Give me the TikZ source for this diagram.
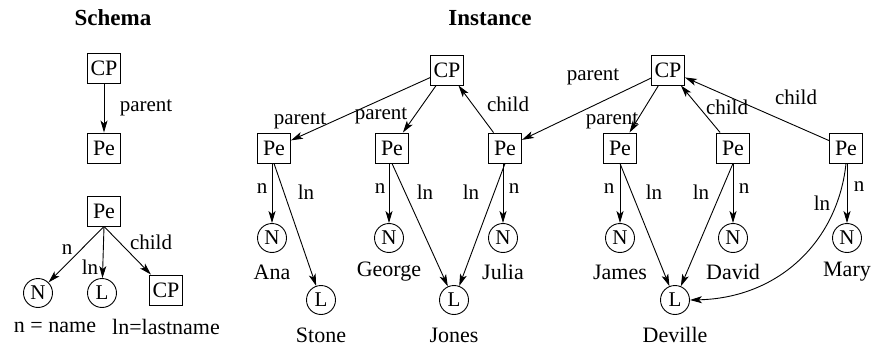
\documentclass[tikz,border=0pt]{standalone}
\usepackage{fontspec}
\setmainfont{Liberation Serif}
\newfontfamily\tms{Liberation Serif}
\usetikzlibrary{arrows.meta}
\begin{document}
\begin{tikzpicture}[x=1pt,y=-1pt,
  box/.style={draw, line width=0.9pt, minimum width=33pt, minimum height=30pt, inner sep=2pt, font=\tms\fontsize{22}{24}\selectfont},
  ent/.style={draw, circle, line width=0.9pt, minimum size=29pt, inner sep=0pt, font=\tms\fontsize{21}{24}\selectfont},
  txt/.style={font=\tms\fontsize{22}{24}\selectfont, inner sep=0pt},
  lbl/.style={font=\tms\fontsize{21}{24}\selectfont, inner sep=0pt},
  arr/.style={-{Stealth[length=12pt,width=7pt,inset=3pt]}, line width=0.9pt},
  ttl/.style={font=\tms\bfseries\fontsize{23}{26}\selectfont}]
\useasboundingbox (0,0) rectangle (875,350);
% titles
\node[ttl] (tS) at (113,18) {Schema};
\node[ttl] (tI) at (490,18) {Instance};
% schema
\node[box] (sCP) at (104,68) {CP};
\node[box] (sPe) at (104,148) {Pe};
\draw[arr] (sCP) -- (sPe);
\node[lbl] (sLp) at (146,108) {parent};
\node[box] (sPe2) at (104,211) {Pe};
\node[ent] (sN) at (38,293) {N};
\node[ent] (sL) at (102,293) {L};
\node[box] (sCP2) at (166,290) {CP};
\draw[arr] (sPe2.south) -- (sN);
\draw[arr] (sPe2.south) -- (sL);
\draw[arr] (sPe2.south) -- (sCP2);
\node[lbl] (sLn) at (67,250) {n};
\node[lbl] (sLl) at (90,267) {ln};
\node[lbl] (sLc) at (151,242) {child};
\node[txt] (k1) at (55,327) {n = name};
\node[txt] (k2) at (166,327) {ln=lastname};
% instance
\node[box] (cp1) at (447,70) {CP};
\node[box] (cp2) at (668,70) {CP};
\foreach \i/\x in {1/274,2/392,3/505,4/620,5/733,6/846} {
  \node[box] (p\i) at (\x,148) {Pe};
}
\foreach \i/\x/\nm in {1/272/Ana,2/389/George,3/503/Julia,4/620/James,5/733/David,6/847/Mary} {
  \node[ent] (n\i) at (\x,238) {N};
  \node[txt] (nm\i) at (\x,272) {\nm};
}
\node[ent] (l1) at (321,300) {L};
\node[ent] (l2) at (454,300) {L};
\node[ent] (l3) at (675,300) {L};
\node[txt] (s1) at (321,335) {Stone};
\node[txt] (s2) at (454,335) {Jones};
\node[txt] (s3) at (675,335) {Deville};
% parent / child
\draw[arr] (cp1) -- (p1);
\draw[arr] (cp1) -- (p2);
\draw[arr] (p3) -- (cp1);
\draw[arr] (cp2) -- (p3);
\draw[arr] (cp2) -- (p4);
\draw[arr] (p5) -- (cp2);
\draw[arr] (p6) -- (cp2);
\node[lbl] (a1) at (300,121) {parent};
\node[lbl] (a2) at (381,116) {parent};
\node[lbl] (a3) at (508,104) {child};
\node[lbl] (a4) at (593,77) {parent};
\node[lbl] (a5) at (612,121) {parent};
\node[lbl] (a6) at (727,107) {child};
\node[lbl] (a7) at (796,97) {child};
% name edges
\foreach \i in {1,...,6} { \draw[arr] (p\i.south -| n\i) -- (n\i); }
\draw[arr] (p1.south) -- (l1);
\draw[arr] (p2.south) -- (l2);
\draw[arr] (p3.south) -- (l2);
\draw[arr] (p4.south) -- (l3);
\draw[arr] (p5.south) -- (l3);
\draw[arr] (p6.south) .. controls (838,240) and (780,298) .. (l3.east);
\node[lbl] (b1) at (262,189) {n};
\node[lbl] (b2) at (380,189) {n};
\node[lbl] (b3) at (514,189) {n};
\node[lbl] (b4) at (609,189) {n};
\node[lbl] (b5) at (744,189) {n};
\node[lbl] (b6) at (859,187) {n};
\node[lbl] (c1) at (306,192) {ln};
\node[lbl] (c2) at (425,192) {ln};
\node[lbl] (c3) at (471,192) {ln};
\node[lbl] (c4) at (654,192) {ln};
\node[lbl] (c5) at (701,192) {ln};
\node[lbl] (c6) at (822,203) {ln};
\end{tikzpicture}
\end{document}
